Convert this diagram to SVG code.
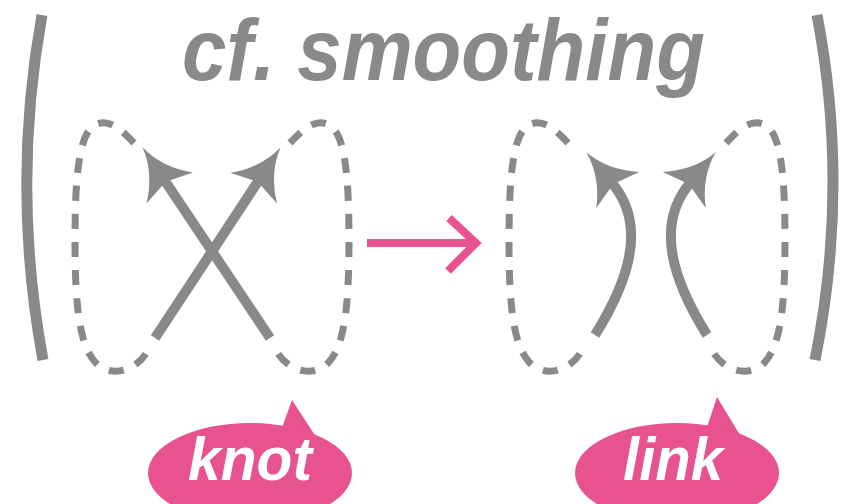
<svg xmlns="http://www.w3.org/2000/svg" width="846" height="504" viewBox="0 0 846 504">
  <style>
    .bracket { fill: none; stroke: #898989; stroke-width: 11; }
    .loop { fill: none; stroke: #898989; stroke-width: 7; stroke-dasharray: 15 13; }
    .strand { fill: none; stroke: #898989; stroke-width: 10; marker-end: url(#head); }
    .title { font-family: "Liberation Sans", Arial, sans-serif; font-weight: bold; font-style: italic; fill: #898989; }
    .bubble { fill: #E8528E; }
    .label { font-family: "Liberation Sans", Arial, sans-serif; font-weight: bold; font-style: italic; fill: #ffffff; }
    .pink { fill: none; stroke: #E8528E; stroke-width: 8; }
  </style>
  <defs>
    <marker id="head" markerUnits="userSpaceOnUse" orient="auto" refX="0" refY="0" markerWidth="100" markerHeight="100" viewBox="-50 -50 100 100" overflow="visible">
      <path d="M40,0 Q12,5 -9,28 L-3,5 L-3,-5 L-9,-28 Q12,-5 40,0 Z" fill="#898989"/>
    </marker>
    <path id="loopL" d="M134,143 C120,128 108,118 95,125 C80,133 75,170 75,240 C75,310 80,345 95,362 C110,378 135,372 147,352"/>
  </defs>

  <g id="title">
    <text class="title" x="182" y="80" font-size="87" textLength="523" lengthAdjust="spacingAndGlyphs">cf. smoothing</text>
  </g>

  <g id="bracket-left">
    <path class="bracket" d="M42,15 Q11,187 43,360"/>
  </g>
  <g id="bracket-right">
    <path class="bracket" d="M817,15 Q850,187 815,360"/>
  </g>

  <g id="knot-diagram">
    <use href="#loopL" class="loop"/>
    <use href="#loopL" class="loop" transform="matrix(-1,0,0,1,424,0)"/>
    <path class="strand" d="M270,338 L164.7,180.5"/>
    <path class="strand" d="M155,338 L258.6,180.6"/>
  </g>

  <g id="link-diagram">
    <use href="#loopL" class="loop" transform="translate(434,0)"/>
    <use href="#loopL" class="loop" transform="matrix(-1,0,0,1,860,0)"/>
    <path class="strand" d="M595,335 C628,282 648,226 612,183"/>
    <path class="strand" d="M707,335 C674,282 654,226 690,183"/>
  </g>

  <g id="connectors">
    <path class="pink" d="M367,243 L474,243"/>
    <path class="pink" d="M449,218 L476,243 L448,271" stroke-linejoin="miter"/>
  </g>

  <g id="knot-label">
    <path class="bubble" d="M279,436 L292,400 L318,440 Z"/>
    <ellipse class="bubble" cx="250" cy="473" rx="102" ry="50"/>
    <text class="label" x="188" y="480" font-size="62" textLength="124" lengthAdjust="spacingAndGlyphs">knot</text>
  </g>

  <g id="link-label">
    <path class="bubble" d="M704,436 L717,397 L743,440 Z"/>
    <ellipse class="bubble" cx="677" cy="473" rx="102" ry="50"/>
    <text class="label" x="623" y="480" font-size="62" textLength="100" lengthAdjust="spacingAndGlyphs">link</text>
  </g>
</svg>
